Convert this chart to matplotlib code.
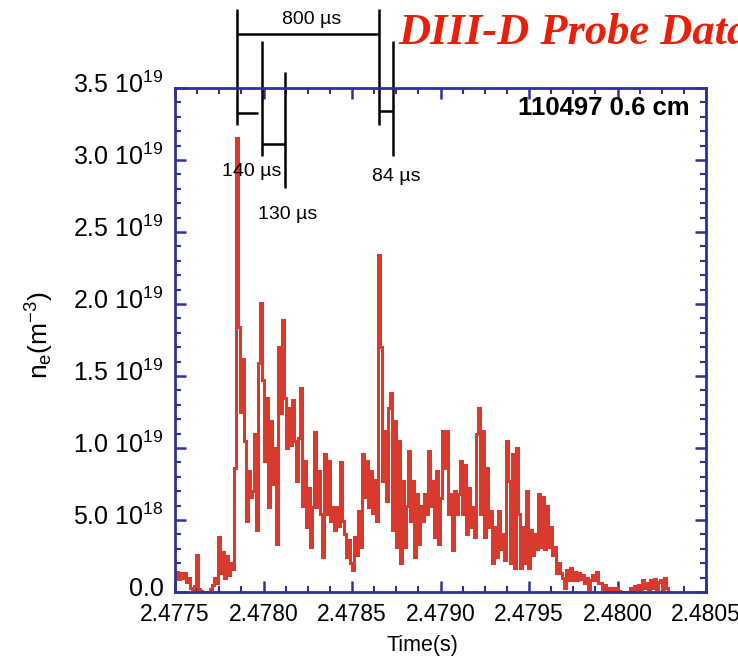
import numpy as np
import matplotlib
matplotlib.use("Agg")
import matplotlib.pyplot as plt
from matplotlib.ticker import FixedLocator, FixedFormatter, AutoMinorLocator
import matplotlib.transforms as mtransforms

plt.rcParams['font.family'] = ['Liberation Sans', 'DejaVu Sans']
plt.rcParams['mathtext.fontset'] = 'custom'
plt.rcParams['mathtext.rm'] = 'Liberation Sans'
plt.rcParams['mathtext.it'] = 'Liberation Sans:italic'
plt.rcParams['mathtext.bf'] = 'Liberation Sans:bold'

# ---------------- data ----------------
t_start = 2.4775          # s, first sample
dt = 1.13e-5              # s, sample spacing of the digitised trace
# electron density, units of 1e18 m^-3
ne_1e18 = [
    1.0, 1.4, 0.9, 1.3, 1.0, 1.3, 0.7, 1.0, 0.3, 0.2,
    0.4, 2.6, 0.2, 0.05, 0.0, 0.0, 0.0, 0.0, 0.2, 0.5,
    1.0, 0.6, 3.8, 1.3, 2.8, 1.0, 2.5, 1.2, 2.0, 1.6,
    8.6, 31.5, 18.4, 12.5, 16.2, 10.5, 4.9, 8.4, 6.6, 7.0,
    11.0, 4.3, 15.9, 20.1, 14.7, 9.1, 13.5, 5.9, 11.9, 7.5,
    10.0, 3.3, 17.0, 12.4, 18.9, 13.5, 10.0, 12.8, 10.2, 13.3,
    10.5, 7.7, 10.7, 14.2, 6.0, 9.1, 4.5, 7.2, 3.1, 5.9,
    11.1, 5.9, 8.4, 5.4, 2.4, 9.6, 5.4, 9.1, 4.9, 5.9,
    4.3, 5.9, 4.6, 9.0, 4.9, 4.0, 2.4, 3.6, 2.0, 1.5,
    3.8, 2.6, 5.6, 3.1, 9.6, 6.6, 9.1, 5.9, 8.4, 5.5,
    7.8, 4.9, 23.4, 17.0, 7.7, 11.2, 6.3, 12.8, 13.8, 4.3,
    11.9, 3.1, 10.5, 2.0, 7.7, 3.1, 6.0, 9.8, 4.9, 7.7,
    2.4, 6.8, 3.3, 6.0, 4.9, 6.8, 5.4, 9.8, 6.0, 7.7,
    3.8, 8.4, 3.3, 6.5, 11.2, 8.6, 11.2, 5.4, 6.8, 2.9,
    7.0, 5.4, 6.8, 9.1, 5.4, 8.8, 4.0, 7.2, 4.5, 5.9,
    3.8, 11.0, 12.8, 5.4, 11.2, 3.8, 8.6, 4.5, 5.6, 2.0,
    4.5, 2.4, 5.6, 3.0, 4.0, 2.2, 10.5, 7.7, 2.0, 9.6,
    1.7, 10.0, 5.4, 1.7, 4.5, 2.0, 7.0, 1.7, 4.3, 2.6,
    4.0, 3.0, 6.8, 3.1, 6.6, 3.0, 6.0, 3.1, 4.5, 2.6,
    3.1, 1.3, 2.0, 1.3, 1.0, 0.3, 1.5, 0.8, 1.7, 0.8,
    1.4, 0.8, 1.3, 0.9, 1.2, 0.6, 1.0, 0.2, 0.8, 1.2,
    0.8, 1.4, 0.6, 0.6, 0.2, 0.5, 0.1, 0.3, 0.1, 0.3,
    0.1, 0.3, 0.1, 0.0, 0.0, 0.0, 0.0, 0.0, 0.3, 0.1,
    0.4, 0.2, 0.5, 0.2, 0.8, 0.3, 0.6, 0.2, 0.8, 0.3,
    0.9, 0.2, 0.7, 0.8, 0.2, 1.0, 0.3, 0.0,
]

x_ticks = [2.4775, 2.4780, 2.4785, 2.4790, 2.4795, 2.4800, 2.4805]
x_ticklabels = ['2.4775', '2.4780', '2.4785', '2.4790', '2.4795', '2.4800', '2.4805']
y_ticks = [0.0, 0.5e19, 1.0e19, 1.5e19, 2.0e19, 2.5e19, 3.0e19, 3.5e19]
y_ticklabels = ['0.0', r'5.0 10$^{18}$', r'1.0 10$^{19}$', r'1.5 10$^{19}$',
                r'2.0 10$^{19}$', r'2.5 10$^{19}$', r'3.0 10$^{19}$', r'3.5 10$^{19}$']

# timing markers (s) and their labels
t_spike1 = 2.47785
intervals_us = [140, 130, 800, 84]
interval_labels = ['140 µs', '130 µs', '800 µs', '84 µs']
shot_label = '110497 0.6 cm'
title = 'DIII-D Probe Data'

# ---------------- figure ----------------
W, H = 738, 661
fig = plt.figure(figsize=(W / 100, H / 100), dpi=100)
ax = fig.add_axes([175 / W, 1 - 592 / H, (706 - 175) / W, (592 - 88) / H])

t = t_start + dt * np.arange(len(ne_1e18))
ne = np.array(ne_1e18) * 1e18
red = '#d83a2e'
ax.plot(t, ne, drawstyle='steps-mid', color=red, lw=2.2, solid_joinstyle='miter')

ax.set_xlim(2.4775, 2.4805)
ax.set_ylim(0, 3.5e19)

blue = '#2e3192'
for s in ax.spines.values():
    s.set_color(blue)
    s.set_linewidth(2.0)

ax.xaxis.set_major_locator(FixedLocator(x_ticks))
ax.xaxis.set_major_formatter(FixedFormatter(x_ticklabels))
ax.yaxis.set_major_locator(FixedLocator(y_ticks))
ax.yaxis.set_major_formatter(FixedFormatter(y_ticklabels))
ax.xaxis.set_minor_locator(AutoMinorLocator(4))
ax.yaxis.set_minor_locator(AutoMinorLocator(5))
ax.tick_params(which='both', direction='in', top=True, right=True, color=blue,
               labelcolor='black')
ax.tick_params(which='major', length=8, width=1.8)
ax.tick_params(which='minor', length=4, width=1.5)
ax.tick_params(axis='x', labelsize=16.5, pad=8)
ax.tick_params(axis='y', labelsize=18, pad=8)
shift_up = mtransforms.ScaledTranslation(0, 4 / 72, fig.dpi_scale_trans)
for lbl in ax.get_yticklabels():
    lbl.set_verticalalignment('center_baseline')
    lbl.set_transform(lbl.get_transform() + shift_up)

ax.set_xlabel('Time(s)', fontsize=15.5)
ax.xaxis.set_label_coords((422 - 175) / (706 - 175), -(645 - 592) / (592 - 88))
ax.xaxis.label.set_verticalalignment('center')
ax.set_ylabel(r'n$_{\rm e}$(m$^{-3}$)', fontsize=19)
ax.yaxis.set_label_coords(-(175 - 40) / (706 - 175), (592 - 335) / (592 - 88))
ax.yaxis.label.set_verticalalignment('center')

fig.text(690 / W, 1 - 108 / H, shot_label, ha='right', va='center',
         fontsize=18.5, fontweight='bold')

# timing markers
t1 = t_spike1 + intervals_us[0] * 1e-6
t2 = t1 + intervals_us[1] * 1e-6
t3 = t_spike1 + intervals_us[2] * 1e-6
t4 = t3 + intervals_us[3] * 1e-6
tr = mtransforms.blended_transform_factory(ax.transData, fig.transFigure)

def fy(py):
    return 1 - py / H

def vline(tx, ytop, ybot):
    ax.plot([tx, tx], [fy(ytop), fy(ybot)], color='black', lw=1.8,
            transform=tr, clip_on=False, solid_capstyle='butt')

def hline(ta, tb, yp):
    ax.plot([ta, tb], [fy(yp), fy(yp)], color='black', lw=1.8,
            transform=tr, clip_on=False, solid_capstyle='butt')

vline(t_spike1, 9, 125)
vline(t1, 41, 156)
vline(t2, 72, 188)
vline(t3, 9, 125)
vline(t4, 41, 156)
hline(t_spike1, t3, 34)
hline(t_spike1, t_spike1 + 0.00012, 113)
hline(t1, t2, 144)
hline(t3, t4, 111)

fs_ann = 14
fig.text(312 / W, fy(19), interval_labels[2], ha='center', va='center', fontsize=fs_ann)
fig.text(252 / W, fy(172), interval_labels[0], ha='center', va='center', fontsize=fs_ann)
fig.text(288 / W, fy(214), interval_labels[1], ha='center', va='center', fontsize=fs_ann)
fig.text(396 / W, fy(177), interval_labels[3], ha='center', va='center', fontsize=fs_ann)

fig.text(398 / W, fy(44), title, ha='left', va='baseline', color='#e8200a',
         fontsize=32, fontweight='bold', fontstyle='italic',
         family=['Liberation Serif', 'DejaVu Serif'])

fig.savefig('out.png', dpi=100)
